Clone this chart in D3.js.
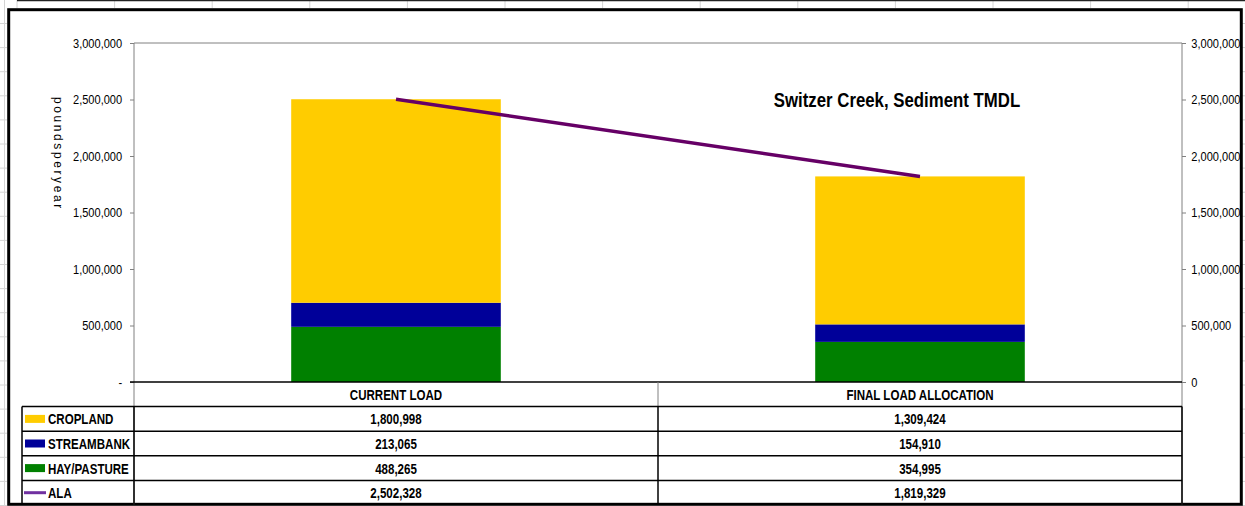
<!DOCTYPE html>
<html>
<head>
<meta charset="utf-8">
<script src="https://cdn.jsdelivr.net/npm/d3@7"></script>
<style>
html,body{margin:0;padding:0;background:#fff;}
svg{display:block;}
</style>
</head>
<body>
<svg id="chart" width="1245" height="506"></svg>
<script>
// ---- data ----
const categories = ["CURRENT LOAD", "FINAL LOAD ALLOCATION"];
const seriesNames = ["CROPLAND", "STREAMBANK", "HAY/PASTURE"];
const cropland = [1800998, 1309424];
const streambank = [213065, 154910];
const hayPasture = [488265, 354995];
const ala = [2502328, 1819329];
const yTicks = [0, 500000, 1000000, 1500000, 2000000, 2500000, 3000000];
const title = "Switzer Creek, Sediment TMDL";
const yLabel = "poundsperyear";
const tableRows = ["CROPLAND", "STREAMBANK", "HAY/PASTURE", "ALA"];

const colors = {"CROPLAND": "#FFCC00", "STREAMBANK": "#000099", "HAY/PASTURE": "#008000", "ALA": "#660066"};
const legendAlaColor = "#7030A0";

const font = "'Liberation Sans',Arial,sans-serif";

const svg = d3.select("#chart");

// condensed text helper
function ctext(g, x0, y0, str, opts) {
  return g.append("text")
    .attr("transform", `translate(${x0},${y0}) scale(${opts.sx || 1},1)`)
    .attr("text-anchor", opts.anchor || "start")
    .attr("font-family", font)
    .attr("font-weight", opts.weight || "normal")
    .attr("font-size", opts.size + "px")
    .attr("fill", "#000")
    .text(str);
}

// ---- spreadsheet background grid ----
const sheet = svg.append("g");
const colLines = d3.range(17, 1245, 97.6);
sheet.selectAll("line.vc").data(colLines).join("line")
  .attr("x1", d => d).attr("x2", d => d).attr("y1", 0).attr("y2", 8)
  .attr("stroke", "#d4d4d4").attr("stroke-width", 1);
sheet.append("line").attr("x1", 4.5).attr("x2", 4.5).attr("y1", 0).attr("y2", 506)
  .attr("stroke", "#d4d4d4");
const rowLines = d3.range(23.5, 506, 24.1);
sheet.selectAll("line.hl").data(rowLines).join("line")
  .attr("x1", 0).attr("x2", 7).attr("y1", d => d).attr("y2", d => d)
  .attr("stroke", "#d4d4d4");
sheet.selectAll("line.hr").data(rowLines).join("line")
  .attr("x1", 1242).attr("x2", 1245).attr("y1", d => d).attr("y2", d => d)
  .attr("stroke", "#d4d4d4");
sheet.append("line").attr("x1", 17).attr("x2", 1245).attr("y1", 0.5).attr("y2", 0.5)
  .attr("stroke", "#222").attr("stroke-width", 1.5);

// chart box
svg.append("rect").attr("x", 8.7).attr("y", 9.7).attr("width", 1232.6).attr("height", 494.6)
  .attr("fill", "#fff").attr("stroke", "#000").attr("stroke-width", 3);

// ---- scales ----
const plotL = 134, plotR = 1182, plotT = 43, plotB = 382;
const x = d3.scaleBand().domain(categories).range([plotL, plotR]).paddingInner(0.6).paddingOuter(0.3);
const xCol = d3.scaleBand().domain(categories).range([plotL, plotR]).padding(0);
const y = d3.scaleLinear().domain([0, 3000000]).range([plotB, plotT]);

// plot area frame (grey)
svg.append("line").attr("x1", plotL).attr("x2", plotR).attr("y1", plotT).attr("y2", plotT).attr("stroke", "#808080");
svg.append("line").attr("x1", plotL).attr("x2", plotL).attr("y1", plotT).attr("y2", 505).attr("stroke", "#808080");
svg.append("line").attr("x1", plotR).attr("x2", plotR).attr("y1", plotT).attr("y2", 505).attr("stroke", "#808080");

// ---- stacked bars ----
const rows = categories.map((c, i) => ({cat: c, "HAY/PASTURE": hayPasture[i], "STREAMBANK": streambank[i], "CROPLAND": cropland[i]}));
const stack = d3.stack().keys(["HAY/PASTURE", "STREAMBANK", "CROPLAND"]);
const stacked = stack(rows);
svg.append("g").selectAll("g").data(stacked).join("g")
  .attr("fill", d => colors[d.key])
  .selectAll("rect").data(d => d).join("rect")
  .attr("x", d => x(d.data.cat))
  .attr("width", x.bandwidth())
  .attr("y", d => y(d[1]))
  .attr("height", d => y(d[0]) - y(d[1]));

// ---- ALA line ----
const line = d3.line().x((d, i) => x(categories[i]) + x.bandwidth() / 2).y(d => y(d));
svg.append("path").datum(ala).attr("d", line)
  .attr("fill", "none").attr("stroke", colors["ALA"]).attr("stroke-width", 3.5);

// ---- axes ----
const fmt = d3.format(",");
const yLeft = d3.axisLeft(y).tickValues(yTicks).tickSize(4).tickPadding(10)
  .tickFormat(d => d === 0 ? "-" : fmt(d));
const gl = svg.append("g").attr("transform", `translate(${plotL},0)`).call(yLeft);
gl.select(".domain").remove();
gl.selectAll(".tick line").attr("stroke", "#808080");
gl.selectAll(".tick text").attr("font-family", font).attr("font-size", "13px").attr("fill", "#000")
  .attr("transform", "scale(0.85,1)");

const yRight = d3.axisRight(y).tickValues(yTicks).tickSize(4).tickPadding(7)
  .tickFormat(d => fmt(d));
const gr = svg.append("g").attr("transform", `translate(${plotR},0)`).call(yRight);
gr.select(".domain").remove();
gr.selectAll(".tick line").attr("stroke", "#808080");
gr.selectAll(".tick text").attr("font-family", font).attr("font-size", "13px").attr("fill", "#000")
  .attr("transform", "scale(0.85,1)");

// baseline
svg.append("line").attr("x1", plotL - 4).attr("x2", plotR).attr("y1", plotB).attr("y2", plotB)
  .attr("stroke", "#000").attr("stroke-width", 1.5);

// y label
svg.append("text").attr("transform", "translate(54,97) rotate(90)")
  .attr("font-family", font).attr("font-size", "12px").attr("letter-spacing", "2.6px")
  .attr("fill", "#000").text(yLabel);

// title
ctext(svg, 897, 107, title, {anchor: "middle", weight: "bold", size: 20.5, sx: 0.82});

// ---- data table ----
const tableTop = plotB, tableBottom = 505, legendL = 22;
const ry = d3.scaleBand().domain(["header", ...tableRows]).range([tableTop, tableBottom]);
const tbl = svg.append("g");

tbl.append("line").attr("x1", xCol(categories[1])).attr("x2", xCol(categories[1]))
  .attr("y1", ry("header")).attr("y2", ry(tableRows[0])).attr("stroke", "#808080");
tableRows.forEach(r => {
  tbl.append("line").attr("x1", legendL).attr("x2", plotR).attr("y1", ry(r)).attr("y2", ry(r))
    .attr("stroke", "#000").attr("stroke-width", 1.5);
});
[legendL, plotL, xCol(categories[1]), plotR].forEach(v => {
  tbl.append("line").attr("x1", v).attr("x2", v).attr("y1", ry(tableRows[0])).attr("y2", tableBottom)
    .attr("stroke", "#000").attr("stroke-width", 1.5);
});

const cellOpts = {anchor: "middle", weight: "bold", size: 15, sx: 0.77};
categories.forEach(c => {
  ctext(tbl, xCol(c) + xCol.bandwidth() / 2, ry("header") + ry.bandwidth() / 2 + 5.5, c, cellOpts);
});

const tableValues = {"CROPLAND": cropland, "STREAMBANK": streambank, "HAY/PASTURE": hayPasture, "ALA": ala};
tableRows.forEach(r => {
  const cy = ry(r) + ry.bandwidth() / 2;
  if (r === "ALA") {
    tbl.append("line").attr("x1", legendL + 2).attr("x2", legendL + 24).attr("y1", cy).attr("y2", cy)
      .attr("stroke", legendAlaColor).attr("stroke-width", 3);
  } else {
    tbl.append("rect").attr("x", legendL + 3).attr("y", cy - 4).attr("width", 20).attr("height", 8)
      .attr("fill", colors[r]);
  }
  ctext(tbl, legendL + 26, cy + 5.5, r, {anchor: "start", weight: "bold", size: 15, sx: 0.77});
  categories.forEach((c, i) => {
    ctext(tbl, xCol(c) + xCol.bandwidth() / 2, cy + 5.5, fmt(tableValues[r][i]), cellOpts);
  });
});
</script>
</body>
</html>
